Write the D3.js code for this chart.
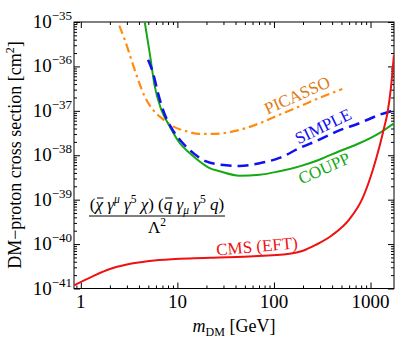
<!DOCTYPE html>
<html>
<head>
<meta charset="utf-8">
<script src="https://cdn.jsdelivr.net/npm/d3@7"></script>
<style>
  body { margin: 0; background: #fff; }
  svg { display: block; }
  svg text { font-family: "Liberation Serif", "DejaVu Serif", serif; }
</style>
</head>
<body>
<script>
const W = 399, H = 338;
const margin = {left: 74, right: 5, top: 22, bottom: 49.5};

// masses in GeV, cross sections as log10(sigma / cm^2)
const cmsMass = [0.85, 1.34, 2, 3, 6.5, 15, 22, 56, 145, 200, 270, 400, 600, 830, 1050, 1240, 1390, 1500, 1630, 1745];
const cmsLogSigma = [-40.93, -40.72, -40.56, -40.46, -40.36, -40.32, -40.31, -40.28, -40.22, -40.15, -40.02, -39.8, -39.45, -38.96, -38.35, -37.8, -37.36, -37.04, -36.46, -35.75];

const couppMass = [4.59, 5.17, 5.83, 6.83, 8.33, 10.6, 13.4, 17, 21.6, 27.4, 44, 71, 114, 184, 295, 475, 765, 1236, 1750];
const couppLogSigma = [-35.0, -35.7, -36.45, -36.98, -37.35, -37.73, -37.95, -38.14, -38.29, -38.36, -38.46, -38.44, -38.36, -38.25, -38.1, -37.91, -37.73, -37.5, -37.28];

const simpleMass = [4.97, 5.6, 6.3, 7.1, 8.7, 10.6, 13.4, 19.9, 27.4, 44, 71, 114, 184, 295, 475, 765, 1236, 1750];
const simpleLogSigma = [-35.85, -36.15, -36.6, -36.98, -37.39, -37.65, -37.88, -38.14, -38.21, -38.24, -38.18, -38.06, -37.84, -37.65, -37.44, -37.28, -37.09, -36.99];

const picassoMass = [2.5, 2.85, 3.34, 3.92, 4.59, 5.6, 6.83, 9.0, 12.4, 17, 23, 44, 71, 114, 184, 295, 510];
const picassoLogSigma = [-35.08, -35.4, -35.85, -36.3, -36.68, -36.98, -37.16, -37.35, -37.46, -37.52, -37.52, -37.43, -37.28, -37.09, -36.9, -36.71, -36.51];

const xMajor = [1, 10, 100, 1000];
const yMajorExp = [-35, -36, -37, -38, -39, -40, -41];

const svg = d3.select("body").append("svg")
  .attr("width", W)
  .attr("height", H);

const x = d3.scaleLog().domain([0.85, 1750]).range([margin.left, W - margin.right]);
const y = d3.scaleLog().domain([1e-41, 1e-35]).range([H - margin.bottom, margin.top]);

// minor tick values
const xMinor = [];
[0.1, 1, 10, 100, 1000].forEach(function(d) {
  for (let k = 2; k <= 9; k++) {
    const v = d * k;
    if (v > 0.85 && v < 1750) xMinor.push(v);
  }
});
const yMinor = [];
for (let e = -41; e < -35; e++) {
  for (let k = 2; k <= 9; k++) yMinor.push(k * Math.pow(10, e));
}
const yMajor = yMajorExp.map(e => Math.pow(10, e));

// axes: ticks point inward on all four sides
function drawAxis(axisFn, scale, values, size, transform) {
  const g = svg.append("g")
    .attr("transform", transform)
    .call(axisFn(scale).tickValues(values).tickSize(-size).tickFormat(""));
  g.select(".domain").remove();
  g.selectAll("line").attr("stroke", "#000").attr("stroke-width", 1);
  return g;
}
const bottomY = H - margin.bottom, rightX = W - margin.right;
drawAxis(d3.axisBottom, x, xMajor, 6, "translate(0," + bottomY + ")");
drawAxis(d3.axisBottom, x, xMinor, 3, "translate(0," + bottomY + ")");
drawAxis(d3.axisTop, x, xMajor, 6, "translate(0," + margin.top + ")");
drawAxis(d3.axisTop, x, xMinor, 3, "translate(0," + margin.top + ")");
drawAxis(d3.axisLeft, y, yMajor, 6, "translate(" + margin.left + ",0)");
drawAxis(d3.axisLeft, y, yMinor, 3, "translate(" + margin.left + ",0)");
drawAxis(d3.axisRight, y, yMajor, 6, "translate(" + rightX + ",0)");
drawAxis(d3.axisRight, y, yMinor, 3, "translate(" + rightX + ",0)");

// frame
svg.append("rect")
  .attr("x", margin.left)
  .attr("y", margin.top)
  .attr("width", rightX - margin.left)
  .attr("height", bottomY - margin.top)
  .attr("fill", "none")
  .attr("stroke", "#000")
  .attr("stroke-width", 1);

// tick labels
svg.selectAll(".xlab")
  .data(xMajor)
  .enter()
  .append("text")
  .attr("class", "xlab")
  .attr("x", d => x(d))
  .attr("y", bottomY + 19)
  .attr("text-anchor", "middle")
  .style("font-size", "19px")
  .text(d => d);

const ylab = svg.selectAll(".ylab")
  .data(yMajorExp)
  .enter()
  .append("text")
  .attr("class", "ylab")
  .attr("x", margin.left - 2)
  .attr("y", d => y(Math.pow(10, d)) + 6)
  .attr("text-anchor", "end")
  .style("font-size", "19px");
ylab.append("tspan").text("10");
ylab.append("tspan")
  .attr("dy", -8)
  .style("font-size", "13px")
  .text(d => "\u2212" + Math.abs(d));

// curves
const line = d3.line()
  .x(d => x(d[0]))
  .y(d => y(Math.pow(10, d[1])))
  .curve(d3.curveMonotoneX);

svg.append("clipPath").attr("id", "plotclip")
  .append("rect")
  .attr("x", margin.left)
  .attr("y", margin.top)
  .attr("width", rightX - margin.left)
  .attr("height", bottomY - margin.top);

const curves = svg.append("g").attr("clip-path", "url(#plotclip)");

function addCurve(mass, vals, color, dash, width) {
  curves.append("path")
    .datum(d3.zip(mass, vals))
    .attr("d", line)
    .attr("fill", "none")
    .attr("stroke", color)
    .attr("stroke-width", width)
    .attr("stroke-dasharray", dash);
}
addCurve(picassoMass, picassoLogSigma, "#ff8c10", "9,4,2.5,4", 2.2);
addCurve(couppMass, couppLogSigma, "#15a815", null, 2);
addCurve(simpleMass, simpleLogSigma, "#1010f0", "11,6", 2.5);
addCurve(cmsMass, cmsLogSigma, "#ee1111", null, 2);

// curve labels
function curveLabel(txt, cx, cy, angle, color) {
  svg.append("text")
    .attr("transform", "translate(" + cx + "," + cy + ") rotate(" + angle + ")")
    .attr("text-anchor", "middle")
    .attr("dy", "0.35em")
    .style("font-size", "17px")
    .attr("fill", color)
    .text(txt);
}
curveLabel("PICASSO", 297, 95, -24, "#e07a10");
curveLabel("SIMPLE", 323, 126, -26, "#1010f0");
curveLabel("COUPP", 324, 168, -24, "#15a815");
curveLabel("CMS (EFT)", 257, 246, -5, "#ee1111");

// operator formula; parts with bar:true get an overline
function mathText(g, parts, xPos, yPos, size) {
  const t = g.append("text")
    .attr("x", xPos)
    .attr("y", yPos)
    .attr("text-anchor", "middle")
    .style("font-size", size + "px");
  let shift = 0, idx = 0;
  const bars = [];
  parts.forEach(function(p) {
    const target = p.s === "sup" ? -7 : p.s === "sub" ? 4 : 0;
    t.append("tspan")
      .attr("dy", target - shift)
      .style("font-style", p.i ? "italic" : "normal")
      .style("font-size", p.s ? (size * 0.68) + "px" : null)
      .text(p.t);
    if (p.bar) bars.push(idx + p.t.length - 1);
    idx += p.t.length;
    shift = target;
  });
  bars.forEach(function(ci) {
    const b = t.node().getExtentOfChar(ci);
    g.append("line")
      .attr("x1", b.x + 1.5).attr("x2", b.x + b.width + 0.5)
      .attr("y1", b.y + 3).attr("y2", b.y + 3)
      .attr("stroke", "#000").attr("stroke-width", 1);
  });
  return t;
}
const fg = svg.append("g");
mathText(fg, [
  {t: "("}, {t: "\u03C7", i: true, bar: true}, {t: " \u03B3", i: true}, {t: "\u03BC", i: true, s: "sup"},
  {t: " \u03B3", i: true}, {t: "5", s: "sup"}, {t: " \u03C7", i: true}, {t: ")"},
  {t: " ("}, {t: "q", i: true, bar: true}, {t: " \u03B3", i: true}, {t: "\u03BC", i: true, s: "sub"},
  {t: " \u03B3", i: true}, {t: "5", s: "sup"}, {t: " q", i: true}, {t: ")"}
], 157, 210, 17);
fg.append("line")
  .attr("x1", 89).attr("x2", 225)
  .attr("y1", 216).attr("y2", 216)
  .attr("stroke", "#000").attr("stroke-width", 1);
mathText(fg, [{t: "\u039B"}, {t: "2", s: "sup"}], 157, 233, 17);

// axis titles
const yt = svg.append("text")
  .attr("transform", "translate(21,155) rotate(-90)")
  .attr("text-anchor", "middle")
  .style("font-size", "18px");
yt.append("tspan").text("DM\u2212proton cross section [cm");
yt.append("tspan").attr("dy", -7).style("font-size", "12px").text("2");
yt.append("tspan").attr("dy", 7).text("]");

const xt = svg.append("text")
  .attr("x", 234)
  .attr("y", 332)
  .attr("text-anchor", "middle")
  .style("font-size", "18px");
xt.append("tspan").style("font-style", "italic").text("m");
xt.append("tspan").attr("dy", 4).style("font-size", "12px").text("DM");
xt.append("tspan").attr("dy", -4).text(" [GeV]");
</script>
</body>
</html>
